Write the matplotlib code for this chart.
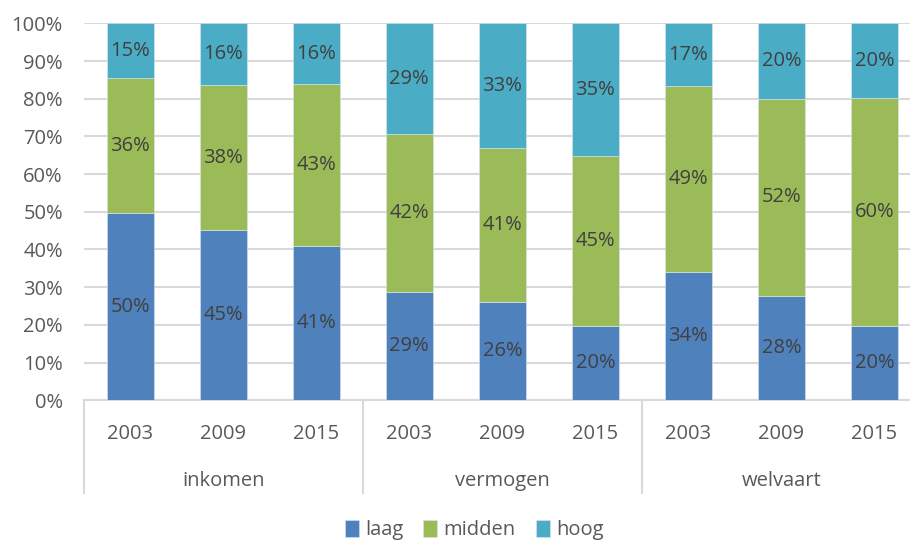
import matplotlib.pyplot as plt
import matplotlib.transforms as mtransforms
import numpy as np

plt.rcParams['font.family'] = ['Open Sans', 'DejaVu Sans']

years = ['2003', '2009', '2015'] * 3
groups = ['inkomen', 'vermogen', 'welvaart']
series = ['laag', 'midden', 'hoog']

laag = [49.6, 45.2, 40.9, 28.8, 26.1, 19.6, 34.1, 27.6, 19.7]
midden = [35.8, 38.4, 42.9, 41.8, 40.8, 45.2, 49.2, 52.4, 60.4]
hoog = [14.6, 16.4, 16.2, 29.4, 33.1, 35.2, 16.7, 20.0, 19.9]

colors = ['#4f81bd', '#9bbb59', '#4bacc6']
grid_c = '#d9d9d9'
txt_c = '#404040'
tick_c = '#595959'
fs = 14.5

fig = plt.figure(figsize=(9.1, 5.43), dpi=100)
# the plot area runs a little past the right edge, as in the original
ax = fig.add_axes([0.092, 0.263, 0.92, 0.694])

x = np.arange(len(years))
bottom = np.zeros(len(years))
for name, vals, c in zip(series, [laag, midden, hoog], colors):
    vals = np.array(vals)
    ax.bar(x, vals, 0.51, bottom=bottom, color=c, label=name,
           edgecolor='#dce6f0', linewidth=0.4, zorder=3)
    for xi, b, v in zip(x, bottom, vals):
        ax.text(xi, b + v / 2, '%d%%' % round(v), ha='center', va='center',
                fontsize=fs, color=txt_c, zorder=4)
    bottom += vals

ax.set_xlim(-0.5, len(years) - 0.5)
ax.set_ylim(0, 100)
ax.set_yticks(range(0, 101, 10))
ax.set_yticklabels(['%d%%' % t for t in range(0, 101, 10)], fontsize=fs, color=tick_c)
ax.yaxis.grid(True, color=grid_c, linewidth=1.5, zorder=0)
ax.set_axisbelow(True)
for s in ['top', 'right', 'left']:
    ax.spines[s].set_visible(False)
ax.spines['bottom'].set_color(grid_c)
ax.spines['bottom'].set_linewidth(1.5)
ax.tick_params(axis='y', length=0, pad=15)
ax.set_xticks([])

trans = mtransforms.blended_transform_factory(ax.transData, ax.transAxes)
for xi, yr in zip(x, years):
    ax.text(xi, -0.09, yr, transform=trans, ha='center', va='center',
            fontsize=fs, color=tick_c)
for gi, g in enumerate(groups):
    ax.text(gi * 3 + 1, -0.215, g, transform=trans, ha='center', va='center',
            fontsize=fs, color=tick_c)
for sep in [-0.5, 2.5, 5.5, 8.5]:
    ax.plot([sep, sep], [0, -0.247], transform=trans, color=grid_c,
            linewidth=1.5, clip_on=False)

fig.legend(loc='center', bbox_to_anchor=(0.521, 1 - 530 / 543), ncol=3,
           frameon=False, fontsize=fs, handlelength=0.7, handleheight=0.9,
           handletextpad=0.3, columnspacing=1.0, labelcolor=tick_c)

fig.savefig('out.png', dpi=100)
